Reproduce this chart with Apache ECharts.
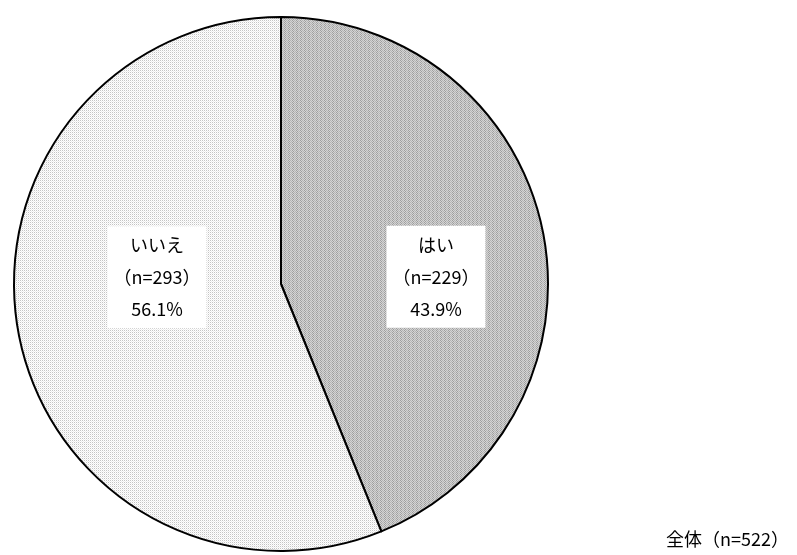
<!DOCTYPE html>
<html>
<head>
<meta charset="utf-8">
<script src="https://cdn.jsdelivr.net/npm/echarts@6/dist/echarts.min.js"></script>
<style>
html,body{margin:0;padding:0;background:#fff;}
#c{width:797px;height:555px;}
</style>
</head>
<body>
<div id="c"></div>
<script>
const categories = ['はい', 'いいえ'];
const counts = [229, 293];
const totalLabel = '全体（n=522）';

function makePattern(fn, w, h) {
  const cv = document.createElement('canvas');
  cv.width = w; cv.height = h;
  const ctx = cv.getContext('2d');
  for (let y = 0; y < h; y++) {
    for (let x = 0; x < w; x++) {
      ctx.fillStyle = fn(x, y);
      ctx.fillRect(x, y, 1, 1);
    }
  }
  return cv;
}
const darkPat = makePattern((x, y) => ((x + y) % 2 === 0 ? ((x % 4 < 2) ? '#9e9e9e' : '#b4b4b4') : '#d4d4d4'), 4, 4);
const lightPat = makePattern((x, y) => (x % 2 === 0 && y % 2 === 0 ? '#c4c4c4' : (x % 2 === 1 && y % 2 === 1 ? '#ececec' : '#ffffff')), 2, 2);
const fills = [
  { image: darkPat, repeat: 'repeat' },
  { image: lightPat, repeat: 'repeat' }
];
const labelShift = [[21, 19], [10, -33]];

const chart = echarts.init(document.getElementById('c'), null, { renderer: 'canvas' });
chart.setOption({
  animation: false,
  backgroundColor: '#ffffff',
  title: {
    text: totalLabel,
    right: 3,
    bottom: 2,
    textStyle: { fontFamily: 'Noto Sans CJK JP', fontSize: 18, fontWeight: 'normal', color: '#000' }
  },
  series: [{
    type: 'pie',
    center: [281, 284],
    radius: [0, 267],
    startAngle: 90,
    clockwise: true,
    percentPrecision: 1,
    itemStyle: { borderColor: '#000', borderWidth: 2 },
    label: {
      show: true,
      position: 'inside',
      formatter: p => p.name + '\n（n=' + p.value + '）\n' + p.percent.toFixed(1) + '%',
      fontFamily: 'Noto Sans CJK JP',
      fontSize: 18,
      lineHeight: 32,
      color: '#000',
      backgroundColor: '#ffffff',
      padding: [4, 6, 2, 6]
    },
    labelLayout: p => ({ dx: labelShift[p.dataIndex][0], dy: labelShift[p.dataIndex][1] }),
    emphasis: { disabled: true },
    data: categories.map((c, i) => ({ name: c, value: counts[i], itemStyle: { color: fills[i] } }))
  }]
});
</script>
</body>
</html>
